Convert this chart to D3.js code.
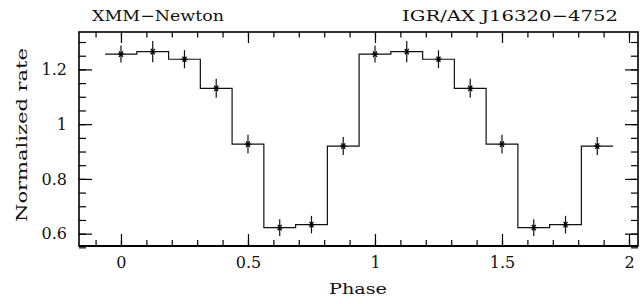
<!DOCTYPE html>
<html>
<head>
<meta charset="utf-8">
<script src="https://cdn.jsdelivr.net/npm/d3@7"></script>
<style>
  html, body { margin: 0; padding: 0; background: #fff; }
  svg { display: block; }
  text { font-family: "DejaVu Serif", "Liberation Serif", serif; fill: #111; }
</style>
</head>
<body>
<svg id="chart" width="644" height="304"></svg>
<script>
// ---- data ----
const phaseBins = [0, 0.125, 0.25, 0.375, 0.5, 0.625, 0.75, 0.875];
const rate      = [1.256, 1.265, 1.237, 1.131, 0.927, 0.622, 0.633, 0.920];
const rateErr   = [0.031, 0.039, 0.033, 0.035, 0.034, 0.031, 0.032, 0.033];
const cycles    = [0, 1];
const binWidth  = 0.125;
const xTicks    = [0, 0.5, 1, 1.5, 2];
const yTicks    = [0.6, 0.8, 1, 1.2];
const titleLeft  = "XMM\u2212Newton";
const titleRight = "IGR/AX J16320\u22124752";
const xLabel = "Phase";
const yLabel = "Normalized rate";

// ---- layout ----
const L = 79, R = 638, T = 32, B = 246;
const svg = d3.select("#chart");

const x = d3.scaleLinear().domain([-0.1652, 2.0354]).range([L, R]);
const y = d3.scaleLinear().domain([0.5549, 1.3366]).range([B, T]);

const pts = [];
cycles.forEach(c => phaseBins.forEach((p, i) => pts.push({p: p + c, v: rate[i], e: rateErr[i]})));

// step histogram
const stepPts = pts.map(d => [d.p - binWidth / 2, d.v]);
stepPts.push([pts[pts.length - 1].p + binWidth / 2, pts[pts.length - 1].v]);
svg.append("path")
  .attr("d", d3.line().x(d => x(d[0])).y(d => y(d[1])).curve(d3.curveStepAfter)(stepPts))
  .attr("fill", "none").attr("stroke", "#111").attr("stroke-width", 1.2);

// error bars
svg.append("g").selectAll("line").data(pts).join("line")
  .attr("x1", d => x(d.p)).attr("x2", d => x(d.p))
  .attr("y1", d => y(d.v - d.e)).attr("y2", d => y(d.v + d.e))
  .attr("stroke", "#111").attr("stroke-width", 1.2);

// asterisk markers
const m = 3.2;
const mk = svg.append("g").selectAll("g").data(pts).join("g")
  .attr("transform", d => `translate(${x(d.p)},${y(d.v)})`);
[[-m, 0, m, 0], [-m * 0.6, -m * 0.85, m * 0.6, m * 0.85], [-m * 0.6, m * 0.85, m * 0.6, -m * 0.85]].forEach(s => {
  mk.append("line").attr("x1", s[0]).attr("y1", s[1]).attr("x2", s[2]).attr("y2", s[3])
    .attr("stroke", "#000").attr("stroke-width", 1.3);
});

// ---- axes ----
const xMinor = d3.range(-1, 21).map(i => i / 10).filter(v => v >= x.domain()[0] && v <= x.domain()[1]);
const yMinor = d3.range(11, 27).map(i => i / 20);

function styleAxis(g) {
  g.select(".domain").remove();
  g.selectAll("line").attr("stroke", "#000").attr("stroke-width", 1.2);
  g.selectAll("text").style("font-size", "16px").style("font-family", "'DejaVu Serif', serif").style("fill", "#111");
}

svg.append("g").attr("transform", `translate(0,${B})`)
  .call(d3.axisBottom(x).tickValues(xMinor).tickSize(-6).tickFormat(""))
  .call(styleAxis);
svg.append("g").attr("transform", `translate(0,${B})`)
  .call(d3.axisBottom(x).tickValues(xTicks).tickSize(-12).tickPadding(11).tickFormat(d3.format("")))
  .call(styleAxis);
svg.append("g").attr("transform", `translate(0,${T})`)
  .call(d3.axisTop(x).tickValues(xMinor).tickSize(-5.5).tickFormat(""))
  .call(styleAxis);
svg.append("g").attr("transform", `translate(0,${T})`)
  .call(d3.axisTop(x).tickValues(xTicks).tickSize(-11).tickFormat(""))
  .call(styleAxis);

svg.append("g").attr("transform", `translate(${L},0)`)
  .call(d3.axisLeft(y).tickValues(yMinor).tickSize(-7).tickFormat(""))
  .call(styleAxis);
svg.append("g").attr("transform", `translate(${L},0)`)
  .call(d3.axisLeft(y).tickValues(yTicks).tickSize(-13).tickPadding(12).tickFormat(d3.format("")))
  .call(styleAxis);
svg.append("g").attr("transform", `translate(${R},0)`)
  .call(d3.axisRight(y).tickValues(yMinor).tickSize(-7).tickFormat(""))
  .call(styleAxis);
svg.append("g").attr("transform", `translate(${R},0)`)
  .call(d3.axisRight(y).tickValues(yTicks).tickSize(-13).tickFormat(""))
  .call(styleAxis);

// frame
svg.append("rect").attr("x", L).attr("y", T).attr("width", R - L).attr("height", B - T)
  .attr("fill", "none").attr("stroke", "#000").attr("stroke-width", 1.6);
svg.append("line").attr("x1", L).attr("x2", R).attr("y1", B).attr("y2", B)
  .attr("stroke", "#000").attr("stroke-width", 2.2);

// ---- texts ----
svg.append("text").attr("x", 92).attr("y", 21).style("font-size", "15px")
  .attr("textLength", 132).attr("lengthAdjust", "spacingAndGlyphs").text(titleLeft);
svg.append("text").attr("x", 402).attr("y", 21).style("font-size", "15px")
  .attr("textLength", 216).attr("lengthAdjust", "spacingAndGlyphs").text(titleRight);
svg.append("text").attr("x", 329).attr("y", 294).style("font-size", "15px")
  .attr("textLength", 58).attr("lengthAdjust", "spacingAndGlyphs").text(xLabel);
svg.append("text").attr("transform", "translate(27,222) rotate(-90)").style("font-size", "15px")
  .attr("textLength", 174).attr("lengthAdjust", "spacingAndGlyphs").text(yLabel);
</script>
</body>
</html>
